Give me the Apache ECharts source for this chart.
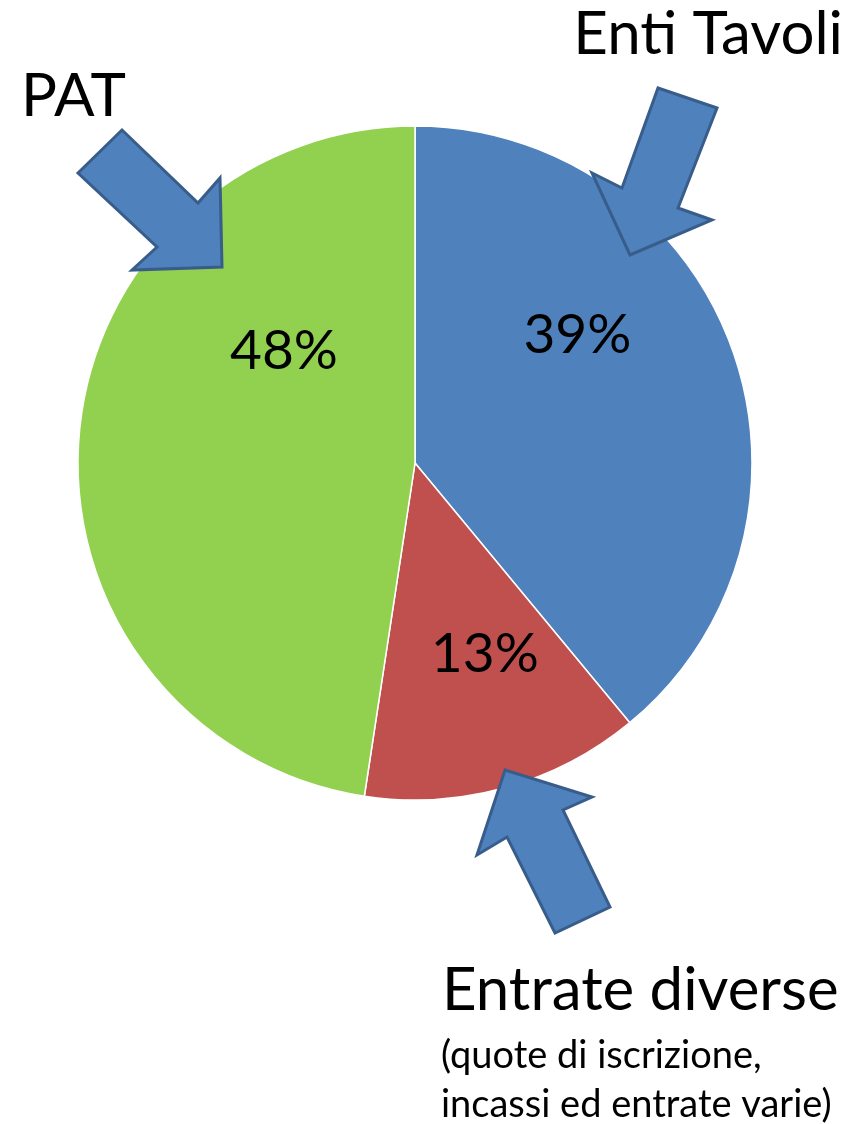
<!DOCTYPE html>
<html>
<head>
<meta charset="utf-8">
<script src="https://cdn.jsdelivr.net/npm/echarts@6/dist/echarts.min.js"></script>
<style>
html,body{margin:0;padding:0;background:#fff;}
#chart{width:861px;height:1124px;}
</style>
</head>
<body>
<div id="chart"></div>
<script>
// Data
const categories = ['Enti Tavoli', 'Entrate diverse', 'PAT'];
const values = [39.0, 13.4, 47.6];
const subLabel = ['(quote di iscrizione,', 'incassi ed entrate varie)'];

const colors = ['#4F81BD', '#C0504D', '#92D050'];
const labelOffsets = [[1, -70], [24, 26], [40, -99]];
const FONT = 'Lato, "Open Sans", sans-serif';

const chart = echarts.init(document.getElementById('chart'), null, {renderer: 'canvas'});

const arrowStyle = {fill: '#4F81BD', stroke: '#385D8A', lineWidth: 3, lineJoin: 'miter'};

const option = {
  backgroundColor: '#ffffff',
  animation: false,
  series: [{
    type: 'pie',
    center: [415, 463],
    radius: [0, 337],
    startAngle: 90,
    clockwise: true,
    percentPrecision: 0,
    avoidLabelOverlap: false,
    itemStyle: {borderColor: '#ffffff', borderWidth: 1.5},
    label: {
      show: true,
      position: 'inside',
      formatter: '{d}%',
      color: '#000',
      fontFamily: FONT,
      fontSize: 55,
      fontWeight: 'normal'
    },
    labelLine: {show: false},
    emphasis: {disabled: true},
    data: categories.map((c, i) => ({
      name: c,
      value: values[i],
      itemStyle: {color: colors[i]},
      label: {offset: labelOffsets[i]}
    }))
  }],
  graphic: [
    // PAT arrow
    {type: 'polygon', z: 10, shape: {points: [[78,173],[122,130],[198,203],[220,178],[222,267],[132,270],[157,247]]}, style: arrowStyle},
    // Enti Tavoli arrow
    {type: 'polygon', z: 10, shape: {points: [[658,88],[717,108],[678,208],[712,220],[630,255],[592,173],[622,188]]}, style: arrowStyle},
    // Entrate diverse arrow
    {type: 'polygon', z: 10, shape: {points: [[505,770],[592,797],[563,810],[610,907],[555,933],[507,837],[477,855]]}, style: arrowStyle},
    {type: 'text', z: 10, x: 21, y: 97, style: {text: categories[2], font: '60px ' + FONT, fill: '#000', textAlign: 'left', textVerticalAlign: 'middle'}},
    {type: 'text', z: 10, x: 843, y: 35, style: {text: categories[0], font: '60px ' + FONT, fill: '#000', textAlign: 'right', textVerticalAlign: 'middle'}},
    {type: 'text', z: 10, x: 442, y: 991, style: {text: categories[1], font: '60px ' + FONT, fill: '#000', textAlign: 'left', textVerticalAlign: 'middle'}},
    {type: 'text', z: 10, x: 441, y: 1056, style: {text: subLabel[0], font: '38px ' + FONT, fill: '#000', textAlign: 'left', textVerticalAlign: 'middle'}},
    {type: 'text', z: 10, x: 441, y: 1105, style: {text: subLabel[1], font: '38px ' + FONT, fill: '#000', textAlign: 'left', textVerticalAlign: 'middle'}}
  ]
};
chart.setOption(option);
</script>
</body>
</html>
